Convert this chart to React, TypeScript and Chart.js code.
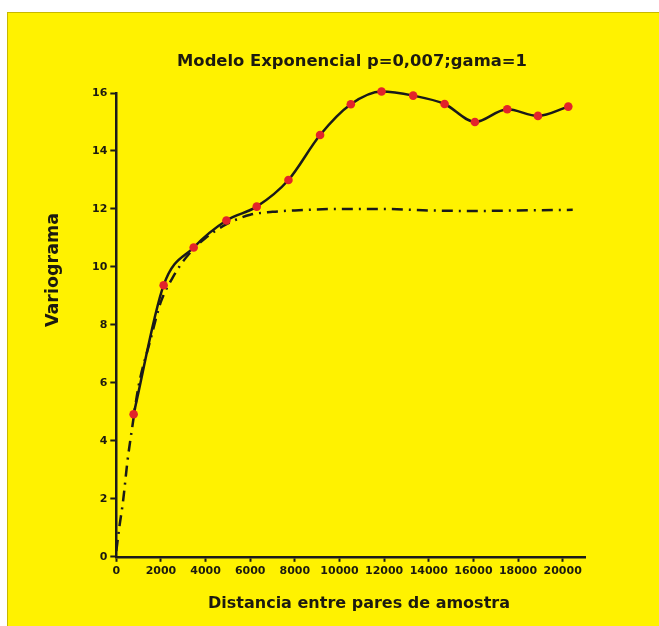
import React, { useEffect, useRef } from 'react';
import { Chart, registerables } from 'chart.js';

Chart.register(...registerables);

const chartTitle = 'Modelo Exponencial p=0,007;gama=1';
const xTitle = 'Distancia entre pares de amostra';
const yTitle = 'Variograma';

const distances = [776, 2121, 3466, 4933, 6291, 7713, 9130, 10507, 11883, 13300, 14709, 16067, 17516, 18892, 20251];
const semivariance = [4.92, 9.37, 10.67, 11.6, 12.08, 13.0, 14.55, 15.61, 16.05, 15.91, 15.62, 15.0, 15.44, 15.21, 15.53];

const modelDistances = [0, 150, 300, 500, 700, 1000, 1500, 2000, 2500, 3000, 3500, 4000, 5000, 6000, 7000, 8000, 10000, 12000, 14000, 16000, 18000, 20450];
const modelValues = [0.2, 1.1, 1.9, 3.3, 4.4, 5.9, 7.4, 8.8, 9.6, 10.2, 10.65, 11.0, 11.5, 11.8, 11.9, 11.95, 12.0, 12.0, 11.95, 11.93, 11.95, 11.97];

const xTicks = [0, 2000, 4000, 6000, 8000, 10000, 12000, 14000, 16000, 18000, 20000];
const yTicks = [0, 2, 4, 6, 8, 10, 12, 14, 16];

const FONT = '"DejaVu Sans", sans-serif';
const INK = '#1c1a10';

const titlesPlugin = {
  id: 'customTitles',
  afterDraw(chart: any) {
    const ctx = chart.ctx;
    ctx.save();
    ctx.fillStyle = INK;
    ctx.textAlign = 'center';
    ctx.textBaseline = 'middle';
    ctx.font = `bold 16.4px ${FONT}`;
    ctx.fillText(chartTitle, 344, 49);
    ctx.font = `bold 16px ${FONT}`;
    ctx.fillText(xTitle, 351, 591);
    ctx.translate(45, 257);
    ctx.rotate(-Math.PI / 2);
    ctx.font = `bold 17.5px ${FONT}`;
    ctx.fillText(yTitle, 0, 0);
    ctx.restore();
  },
};

export default function App() {
  const ref = useRef<HTMLCanvasElement | null>(null);

  useEffect(() => {
    if (!ref.current) return;
    const chart = new Chart(ref.current, {
      type: 'line',
      data: {
        datasets: [
          {
            label: 'Experimental',
            data: distances.map((x, i) => ({ x, y: semivariance[i] })),
            borderColor: '#1a1a1a',
            borderWidth: 2.5,
            cubicInterpolationMode: 'monotone',
            pointRadius: 4.3,
            pointBackgroundColor: '#e2242a',
            pointBorderWidth: 0,
            fill: false,
            clip: false,
          },
          {
            label: 'Modelo',
            data: modelDistances.map((x, i) => ({ x, y: modelValues[i] })),
            borderColor: '#1a1a1a',
            borderWidth: 2.5,
            borderDash: [11, 6, 2, 6],
            cubicInterpolationMode: 'monotone',
            pointRadius: 0,
            fill: false,
            clip: false,
          },
        ],
      },
      options: {
        animation: false,
        responsive: true,
        maintainAspectRatio: false,
        layout: { padding: { left: 81, right: 74, top: 80, bottom: 45 } },
        plugins: {
          legend: { display: false },
          tooltip: { enabled: false },
          title: { display: false },
        },
        scales: {
          x: {
            type: 'linear',
            min: 0,
            max: 21000,
            afterBuildTicks: (s: any) => {
              s.ticks = xTicks.map((v) => ({ value: v }));
            },
            grid: { display: true, drawOnChartArea: false, drawTicks: true, tickLength: 5, tickColor: '#1a1a1a', tickWidth: 2 },
            border: { display: true, color: '#1a1a1a', width: 2.5 },
            ticks: {
              color: INK,
              font: { family: FONT, size: 11, weight: 'bold' },
              padding: 3,
              maxRotation: 0,
              autoSkip: false,
              callback: (v: any) => String(v),
            },
          },
          y: {
            type: 'linear',
            min: 0,
            max: 16,
            afterBuildTicks: (s: any) => {
              s.ticks = yTicks.map((v) => ({ value: v }));
            },
            grid: { display: true, drawOnChartArea: false, drawTicks: true, tickLength: 6, tickColor: '#1a1a1a', tickWidth: 2 },
            border: { display: true, color: '#1a1a1a', width: 2.5 },
            ticks: {
              color: INK,
              font: { family: FONT, size: 11, weight: 'bold' },
              padding: 3,
              autoSkip: false,
              callback: (v: any) => String(v),
            },
          },
        },
      },
      plugins: [titlesPlugin],
    });
    return () => chart.destroy();
  }, []);

  return (
    <div
      style={{
        position: 'absolute',
        left: 7,
        top: 12,
        width: 652,
        height: 614,
        background: '#fff200',
        borderTop: '1px solid #c8b800',
        borderLeft: '1px solid #c8b800',
        boxSizing: 'border-box',
      }}
    >
      <canvas ref={ref} />
    </div>
  );
}
